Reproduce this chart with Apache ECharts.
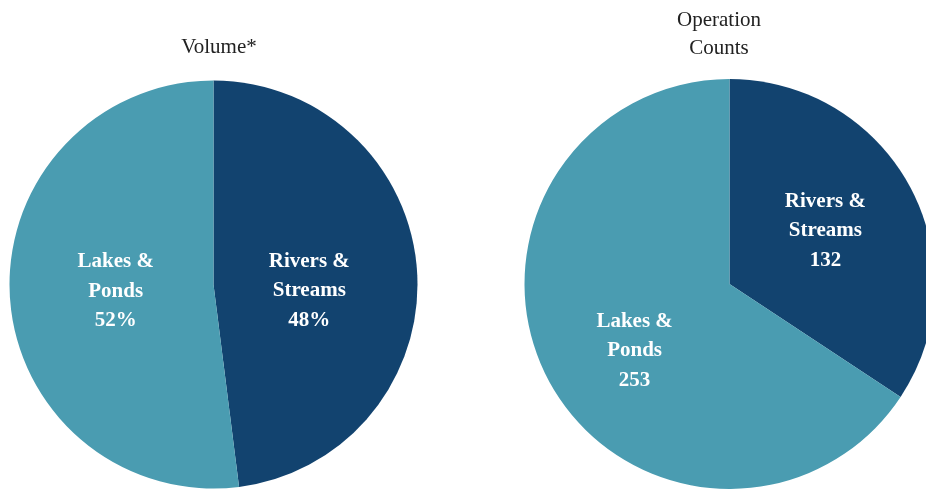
<!DOCTYPE html>
<html>
<head>
<meta charset="utf-8">
<script src="https://cdn.jsdelivr.net/npm/echarts@6/dist/echarts.min.js"></script>
<style>
html,body{margin:0;padding:0;background:#fff;}
#c{width:926px;height:490px;}
</style>
</head>
<body>
<div id="c"></div>
<script>
const categories = ['Rivers &\nStreams', 'Lakes &\nPonds'];
const volumePct = [48, 52];
const operationCounts = [132, 253];
const titles = ['Volume*', 'Operation\nCounts'];
const colors = ['#12436F', '#4A9CB1'];

const chart = echarts.init(document.getElementById('c'), null, {renderer: 'canvas'});
const serif = '"Liberation Serif", "DejaVu Serif", serif';
const labelStyle = {
  show: true, position: 'inside', color: '#fff', fontFamily: serif,
  fontWeight: 'bold', fontSize: 21, lineHeight: 29.5, align: 'center'
};
const volOffsets = [[-9, 13], [7, 0]];
const cntOffsets = [[3, -3], [-2, 17]];

chart.setOption({
  animation: false,
  color: colors,
  title: [
    {text: titles[0], left: 214, top: 28, textAlign: 'center',
     textStyle: {fontFamily: serif, fontWeight: 'normal', fontSize: 21, color: '#222', lineHeight: 28}},
    {text: titles[1], left: 714, top: 1, textAlign: 'center',
     textStyle: {fontFamily: serif, fontWeight: 'normal', fontSize: 21, color: '#222', lineHeight: 28}}
  ],
  series: [
    {
      type: 'pie', center: [213.5, 284.5], radius: [0, 204], startAngle: 90, clockwise: true,
      itemStyle: {borderWidth: 0},
      label: Object.assign({}, labelStyle, {formatter: p => p.name + '\n' + p.value + '%'}),
      labelLine: {show: false},
      labelLayout: p => ({dx: volOffsets[p.dataIndex][0], dy: volOffsets[p.dataIndex][1]}),
      emphasis: {disabled: true},
      data: categories.map((n, i) => ({name: n, value: volumePct[i]}))
    },
    {
      type: 'pie', center: [729.5, 284], radius: [0, 205], startAngle: 90, clockwise: true,
      itemStyle: {borderWidth: 0},
      label: Object.assign({}, labelStyle, {formatter: p => p.name + '\n' + p.value}),
      labelLine: {show: false},
      labelLayout: p => ({dx: cntOffsets[p.dataIndex][0], dy: cntOffsets[p.dataIndex][1]}),
      emphasis: {disabled: true},
      data: categories.map((n, i) => ({name: n, value: operationCounts[i]}))
    }
  ]
});
</script>
</body>
</html>
